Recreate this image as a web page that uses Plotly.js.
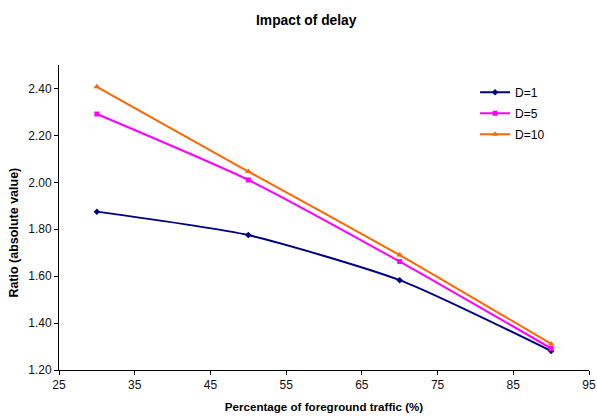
<!DOCTYPE html>
<html>
<head>
<meta charset="utf-8">
<script src="https://cdn.plot.ly/plotly-3.0.1.min.js"></script>
<style>html,body{margin:0;padding:0;background:#fff;}#chart{width:597px;height:420px;}</style>
</head>
<body>
<div id="chart"></div>
<script>
const traffic = [30, 50, 70, 90];
const d1 = [1.875, 1.775, 1.583, 1.281];
const d5 = [2.291, 2.010, 1.662, 1.292];
const d10 = [2.407, 2.046, 1.690, 1.311];
const seriesNames = ['D=1', 'D=5', 'D=10'];

const font = 'Liberation Sans, Arial, sans-serif';
const traces = [
  {x: traffic, y: d1, name: seriesNames[0], legendgroup: 'g1', mode: 'lines+markers',
   line: {color: '#000080', width: 2, shape: 'spline', smoothing: 0.6},
   marker: {symbol: 'diamond', size: 5, color: '#000080'}},
  {x: traffic, y: d5, name: seriesNames[1], legendgroup: 'g2', mode: 'lines+markers',
   line: {color: '#FF00FF', width: 2, shape: 'spline', smoothing: 0.6},
   marker: {symbol: 'square', size: 5, color: '#FF00FF'}},
  {x: traffic, y: d10, name: seriesNames[2], legendgroup: 'g3', mode: 'lines+markers',
   line: {color: '#FF6600', width: 2, shape: 'spline', smoothing: 0.6},
   marker: {symbol: 'triangle-up', size: 6, color: '#FF6600'}}
];

const layout = {
  width: 597, height: 420,
  margin: {l: 59, r: 8, t: 65, b: 50},
  paper_bgcolor: '#fff', plot_bgcolor: '#fff',
  font: {family: font, size: 12, color: '#000'},
  title: {text: '<b>Impact of delay</b>', font: {family: font, size: 13.8, color: '#000'},
          x: 0.513, xanchor: 'center', y: 0.952, yanchor: 'middle'},
  xaxis: {range: [25, 95], dtick: 10, tick0: 25, showgrid: false, zeroline: false,
          showline: true, linecolor: '#000', linewidth: 1, ticks: 'outside', ticklen: 4,
          tickcolor: '#000', tickfont: {size: 12, color: '#111'},
          title: {text: '<b>Percentage of foreground traffic (%)</b>', font: {size: 11.6}, standoff: 11}},
  yaxis: {range: [1.2, 2.5], dtick: 0.2, tick0: 1.2, tickformat: '.2f', showgrid: false, zeroline: false,
          showline: true, linecolor: '#000', linewidth: 1, ticks: 'outside', ticklen: 4,
          tickcolor: '#000', tickfont: {size: 12, color: '#111'}},
  annotations: [{text: '<b>Ratio (absolute value)</b>', textangle: -90, showarrow: false,
                 xref: 'paper', yref: 'paper', x: -0.084, y: 0.452,
                 xanchor: 'center', yanchor: 'middle', font: {size: 12.5, color: '#000'}}],
  legend: {x: 0.785, y: 0.958, xanchor: 'left', yanchor: 'top', font: {size: 12},
           bgcolor: 'rgba(0,0,0,0)', itemwidth: 30, tracegroupgap: 2},
  showlegend: true
};

Plotly.newPlot('chart', traces, layout, {displayModeBar: false, staticPlot: true});
</script>
</body>
</html>
